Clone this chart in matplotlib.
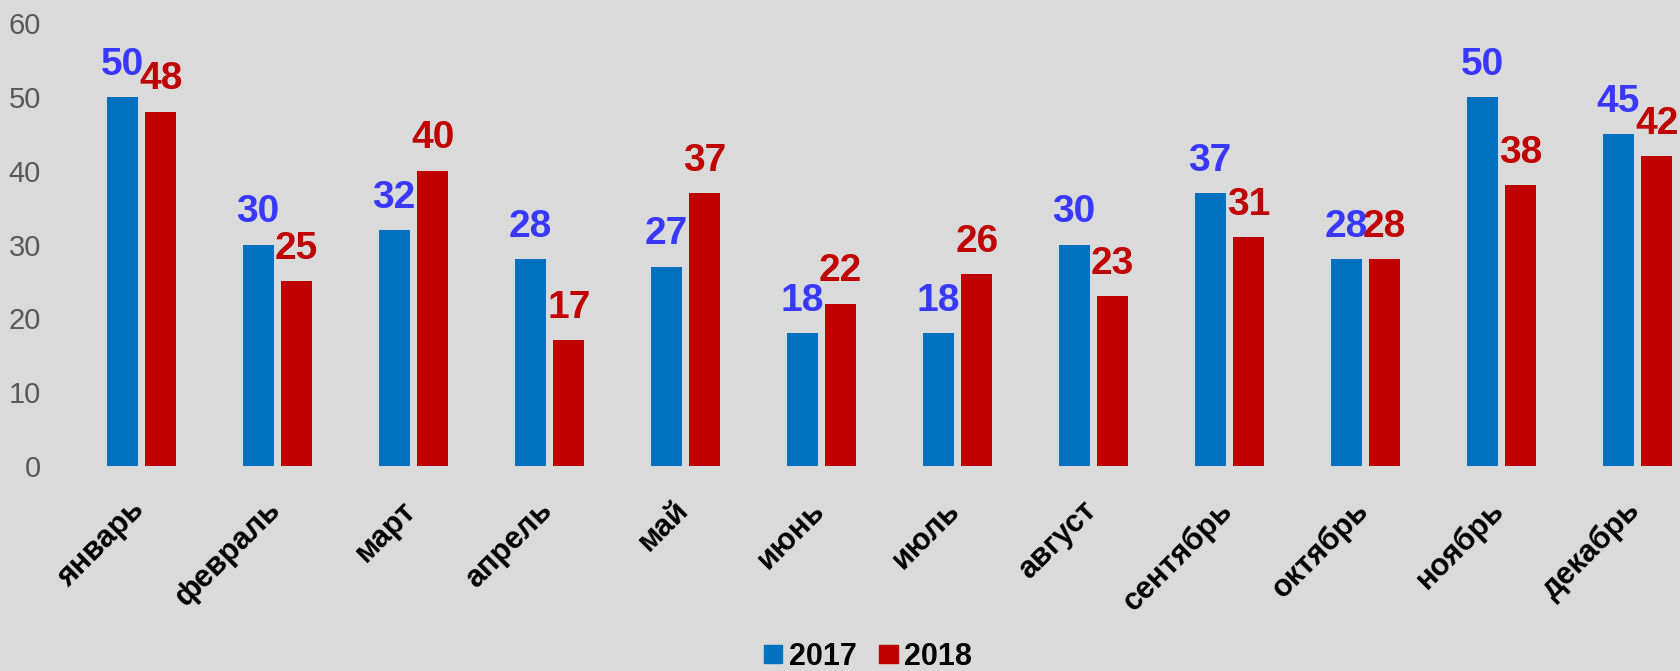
import numpy as np
import matplotlib.pyplot as plt
from matplotlib.patches import Patch
from matplotlib.transforms import ScaledTranslation

plt.rcParams['font.family'] = ['Liberation Sans', 'DejaVu Sans']

# data
months = ['январь', 'февраль', 'март', 'апрель', 'май', 'июнь',
          'июль', 'август', 'сентябрь', 'октябрь', 'ноябрь', 'декабрь']
values_2017 = [50, 30, 32, 28, 27, 18, 18, 30, 37, 28, 50, 45]
values_2018 = [48, 25, 40, 17, 37, 22, 26, 23, 31, 28, 38, 42]
series_names = ['2017', '2018']
y_ticks = [0, 10, 20, 30, 40, 50, 60]

# styles
bar_colors = ['#0070C0', '#C00000']
label_colors = ['#3838FF', '#C00000']
bg_color = '#dadada'
bar_width = 0.228
offset = 0.1415

fig = plt.figure(figsize=(16.81, 6.71), dpi=100)
fig.patch.set_facecolor(bg_color)
ax = fig.add_axes([0.0327, 0.3055, 0.9673, 0.6602])
ax.set_facecolor('none')

x = np.arange(len(months))
for i, vals in enumerate([values_2017, values_2018]):
    pos = x + (-offset if i == 0 else offset)
    ax.bar(pos, vals, width=bar_width, color=bar_colors[i], zorder=2)
    for px, v in zip(pos, vals):
        ax.annotate(str(v), (px, v), xytext=(0, 16), textcoords='offset points',
                    ha='center', va='baseline', fontsize=28, fontweight='bold',
                    color=label_colors[i], zorder=3)

ax.set_xlim(-0.636, 11.32)
ax.set_ylim(0, 60)
ax.set_yticks(y_ticks)
ax.set_xticks(x)
ax.set_xticklabels(months, rotation=45, ha='right', fontsize=22, fontweight='bold')
ax.tick_params(axis='x', length=0, pad=21)
ax.tick_params(axis='y', length=0, pad=10, labelsize=21, labelcolor='#595959')
# nudge month labels a little to the right, like the reference
shift = ScaledTranslation(9 / 100, 0, fig.dpi_scale_trans)
for lab in ax.get_xticklabels():
    lab.set_transform(lab.get_transform() + shift)
for s in ax.spines.values():
    s.set_visible(False)

handles = [Patch(color=c) for c in bar_colors]
fig.legend(handles, series_names, loc='center', bbox_to_anchor=(868 / 1681, 14 / 671),
           ncol=2, frameon=False, prop={'size': 22, 'weight': 'bold'},
           handlelength=0.6, handleheight=0.55, handletextpad=0.2, columnspacing=0.75)

fig.savefig('out.png', dpi=100, facecolor=fig.get_facecolor())
